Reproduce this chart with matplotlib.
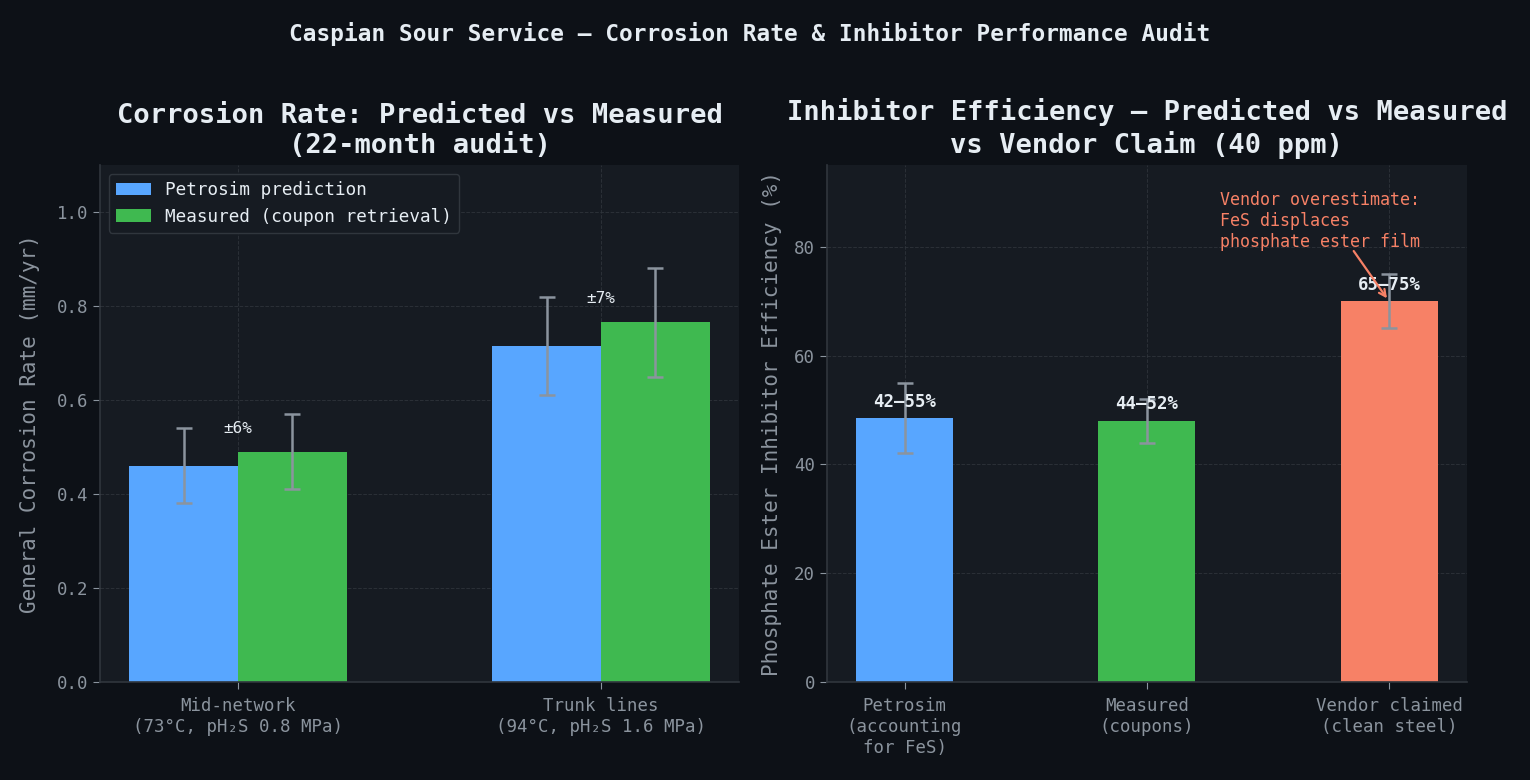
import numpy as np
import matplotlib
matplotlib.use("Agg")
import matplotlib.pyplot as plt

# Left panel: corrosion rate
locations = ["Mid-network\n(73°C, pH\u2082S 0.8 MPa)", "Trunk lines\n(94°C, pH\u2082S 1.6 MPa)"]
predicted = [0.46, 0.715]
predicted_err = [0.08, 0.105]
measured = [0.49, 0.765]
measured_err = [0.08, 0.115]
deviation_labels = ["±6%", "±7%"]

# Right panel: inhibitor efficiency
sources = ["Petrosim\n(accounting\nfor FeS)", "Measured\n(coupons)", "Vendor claimed\n(clean steel)"]
efficiency = [48.5, 48.0, 70.0]
efficiency_err = [6.5, 4.0, 5.0]
range_labels = ["42–55%", "44–52%", "65–75%"]

BG = "#0d1117"
PANEL = "#161b22"
GRID = "#30363d"
TEXT = "#e6edf3"
MUTED = "#8b949e"
BLUE = "#58a6ff"
GREEN = "#3fb950"
SALMON = "#f78166"

plt.rcParams["font.family"] = ["DejaVu Sans Mono", "DejaVu Sans"]

fig = plt.figure(figsize=(15.3, 7.8), dpi=100, facecolor=BG)
ax1 = fig.add_axes([0.0654, 0.1256, 0.4176, 0.6628])
ax2 = fig.add_axes([0.5405, 0.1256, 0.4183, 0.6628])


def style(ax):
    ax.set_facecolor(PANEL)
    for side in ["top", "right"]:
        ax.spines[side].set_visible(False)
    for side in ["left", "bottom"]:
        ax.spines[side].set_color(GRID)
        ax.spines[side].set_linewidth(1.2)
    ax.tick_params(colors=MUTED, labelsize=12.5, length=5)
    ax.tick_params(axis="x", pad=6)
    ax.grid(True, color=GRID, linestyle="--", linewidth=0.7, alpha=0.8)
    ax.set_axisbelow(True)


err_kw = dict(ecolor=MUTED, capsize=6, elinewidth=1.8, capthick=1.8)

# Left panel
style(ax1)
x = np.arange(len(locations))
w = 0.3
ax1.bar(x - w / 2, predicted, w, color=BLUE, yerr=predicted_err,
        error_kw=err_kw, label="Petrosim prediction")
ax1.bar(x + w / 2, measured, w, color=GREEN, yerr=measured_err,
        error_kw=err_kw, label="Measured (coupon retrieval)")
for i, lab in enumerate(deviation_labels):
    ax1.text(x[i], max(predicted[i], measured[i]) + 0.05, lab,
             ha="center", va="center", color=TEXT, fontsize=11.5)
ax1.set_xticks(x)
ax1.set_xticklabels(locations)
ax1.set_ylim(0, 1.1)
ax1.set_ylabel("General Corrosion Rate (mm/yr)", color=MUTED, fontsize=15, labelpad=12)
ax1.set_title("Corrosion Rate: Predicted vs Measured\n(22-month audit)",
              color=TEXT, fontsize=19.5, fontweight="bold", pad=9)
leg = ax1.legend(loc="upper left", fontsize=12.7, facecolor=PANEL,
                 edgecolor=GRID, labelcolor=TEXT, framealpha=1)

# Right panel
style(ax2)
x2 = np.arange(len(sources))
ax2.bar(x2, efficiency, 0.4, color=[BLUE, GREEN, SALMON], yerr=efficiency_err,
        error_kw=err_kw)
for i, lab in enumerate(range_labels):
    ax2.text(x2[i], efficiency[i] + 3, lab, ha="center", va="center",
             color=TEXT, fontsize=12.5, fontweight="bold")
ax2.annotate("Vendor overestimate:\nFeS displaces\nphosphate ester film",
             xy=(1.99, 70.5), xytext=(1.3, 79.2), ha="left", va="bottom",
             color=SALMON, fontsize=12,
             arrowprops=dict(arrowstyle="->", color=SALMON, lw=1.6,
                             shrinkA=0, shrinkB=0, relpos=(0.67, 0.0),
                             patchA=None))
ax2.set_xticks(x2)
ax2.set_xticklabels(sources)
ax2.set_ylim(0, 95)
ax2.set_ylabel("Phosphate Ester Inhibitor Efficiency (%)", color=MUTED, fontsize=15, labelpad=9)
ax2.set_title("Inhibitor Efficiency — Predicted vs Measured\nvs Vendor Claim (40 ppm)",
              color=TEXT, fontsize=19.5, fontweight="bold", pad=9)

fig.suptitle("Caspian Sour Service — Corrosion Rate & Inhibitor Performance Audit",
             color=TEXT, fontsize=16.4, fontweight="bold", x=0.49, y=0.956, va="center")

fig.savefig("out.png", dpi=100, facecolor=BG)
